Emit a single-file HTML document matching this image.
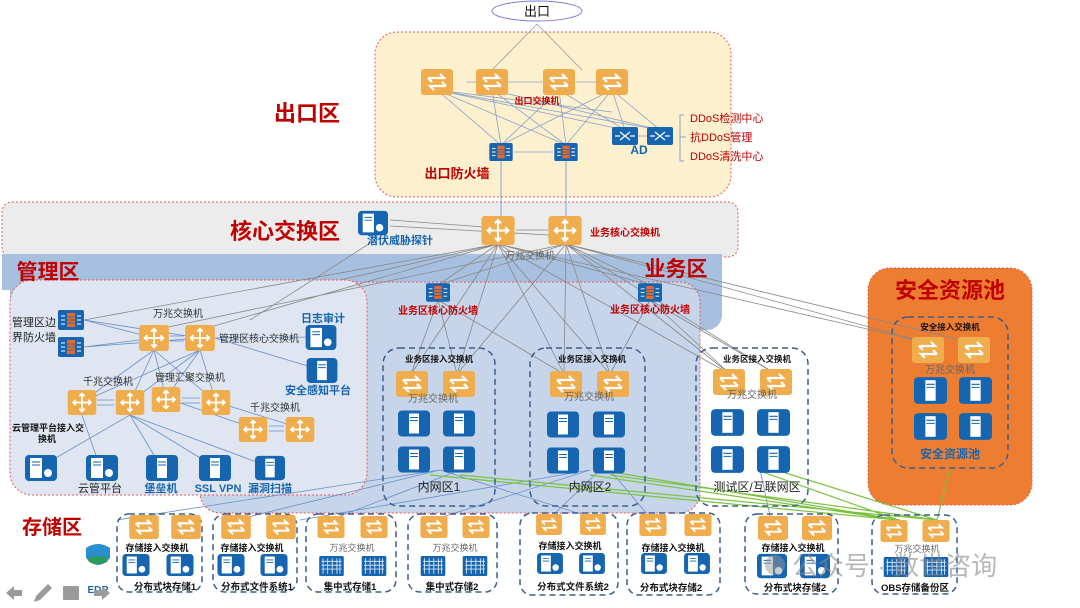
<!DOCTYPE html>
<html><head><meta charset="utf-8"><style>
html,body{margin:0;padding:0;background:#fff;}
svg{display:block;font-family:"Liberation Sans","Noto Sans CJK SC",sans-serif;}
.r{fill:#c00000;font-weight:bold;}
.b{fill:#1565b0;font-weight:bold;}
.k{fill:#111;font-weight:bold;}
.g{fill:#666;}
</style></head><body>
<svg width="1080" height="608" viewBox="0 0 1080 608" xmlns="http://www.w3.org/2000/svg">
<defs>
<symbol id="sw" viewBox="0 0 32 26"><rect width="32" height="26" rx="3" fill="#f0ad4e"/><path d="M7 9h16l-4-4M25 17H9l4 4M7 9l4 4M25 17l-4-4" stroke="#fff" stroke-width="2.2" fill="none"/></symbol>
<symbol id="cs" viewBox="0 0 32 28"><rect width="32" height="28" rx="3" fill="#f0ad4e"/><path d="M16 4v20M6 14h20M13 7l3-3 3 3M13 21l3 3 3-3M9 11l-3 3 3 3M23 11l3 3-3 3" stroke="#fff" stroke-width="2" fill="none"/></symbol>
<symbol id="fw" viewBox="0 0 26 20"><rect width="26" height="20" rx="2" fill="#1565b0"/><rect x="9" y="3" width="8" height="14" fill="#e8692b"/><path d="M9 7h8M9 10h8M9 13h8" stroke="#1565b0" stroke-width="0.8"/><path d="M3 6h4M3 10h4M3 14h4M19 6h4M19 10h4M19 14h4" stroke="#fff" stroke-width="1"/></symbol>
<symbol id="srv" viewBox="0 0 32 26"><rect width="32" height="26" rx="4" fill="#1565b0"/><rect x="11" y="3" width="10" height="20" fill="#fff"/><path d="M12 7h8M12 10h8" stroke="#1565b0" stroke-width="1"/></symbol>
<symbol id="st" viewBox="0 0 32 26"><rect width="32" height="26" rx="4" fill="#1565b0"/><rect x="5" y="3" width="12" height="20" fill="#fff"/><circle cx="23" cy="18" r="4" fill="#fff"/><path d="M7 7h8M7 10h8" stroke="#1565b0"/></symbol>
<symbol id="cen" viewBox="0 0 32 26"><rect width="32" height="26" rx="2" fill="#1565b0"/><path d="M5 3v20M11 3v20M17 3v20M23 3v20M27 3v20M3 7h26M3 12h26M3 17h26" stroke="#cfe0f5" stroke-width="1.2"/></symbol>
<symbol id="ad" viewBox="0 0 26 18"><rect width="26" height="18" rx="2" fill="#1565b0"/><path d="M8 5l10 8M18 5l-10 8M3 9h5M18 9h5" stroke="#fff" stroke-width="1.3"/></symbol>
</defs>

<!-- exit zone -->
<rect x="375" y="32" width="356" height="165" rx="22" fill="#fdf0cf" stroke="#e8585a" stroke-dasharray="2,2"/>
<path d="M537 24L492 70M537 24L582 70" stroke="#999" stroke-width="0.8"/>
<ellipse cx="537" cy="11" rx="45" ry="10" fill="#fff" stroke="#7a7ae0"/>
<text x="537" y="16" font-size="13" text-anchor="middle" fill="#111">出口</text>

<!-- core band -->
<rect x="2" y="202" width="736" height="55" rx="10" fill="#ececec" stroke="#e8585a" stroke-dasharray="2,2"/>
<!-- blue band -->
<path d="M2 254H722V315a15 15 0 0 1-15 15H10V290H2Z" fill="#a8c0df"/>
<rect x="200" y="282" width="500" height="231" rx="20" fill="#c6d5ea" stroke="#e8585a" stroke-dasharray="2,2"/>
<rect x="10" y="280" width="357" height="215" rx="22" fill="#dfe6f1" stroke="#e8585a" stroke-dasharray="2,2"/>

<!-- security pool -->
<rect x="868" y="268" width="164" height="237" rx="22" fill="#ed7d31" stroke="#e8585a" stroke-dasharray="2,2"/>

<!-- lines gray -->
<g stroke="#888" stroke-width="0.8" fill="none">
<path d="M437 90L501 145M437 90L566 145M437 90L625 130M437 90L660 130M492 90L501 145M492 90L566 145M492 90L660 130M559 90L501 145M559 90L566 145M559 90L625 130M612 90L501 145M612 90L566 145M612 90L625 130M612 90L660 130M437 90L612 112" stroke="#8aa3c8"/>
<path d="M466 82H476M508 82H543M576 82H596M514 152H553M638 136H647" stroke="#8aa3c8"/>
<path d="M501 160V222M566 160V222" stroke="#6a8fc8"/>
<path d="M390 220L498 228M390 226L566 236M516 230H548"/>
<path d="M498 244L84 320M498 244L200 330M498 244L438 285M498 244L411 374M498 244L457 374M498 244L564 374M498 244L610 374M498 244L730 374M498 244L650 285M566 244L438 285M566 244L457 374M566 244L564 374M566 244L610 374M566 244L776 374M566 244L928 343M566 244L973 343M566 244L650 285M566 244L730 374M498 244L928 343M566 244L154 330M375 240L250 320M498 244L340 280"/>
<path d="M438 300L411 374M438 300L457 374M650 300L730 374M650 300L776 374M650 300L610 374M438 300L564 374"/>
</g>
<!-- mgmt lines -->
<g stroke="#6a8fc8" stroke-width="0.8" fill="none">
<path d="M84 320L154 338M84 320L200 338M84 347L154 338M84 347L200 338M170 336H184M170 341H184M215 338L320 337M215 338L321 370M154 350L82 402M154 350L130 402M154 350L166 398M154 350L216 402M200 350L130 402M200 350L166 398M200 350L216 402M200 350L82 402M97 400H114M97 405H114M182 398H200M182 403H200M166 398L253 428M216 402L300 428M269 426H284M269 431H284M82 415L100 467M130 415L40 467M130 415L161 467M130 415L215 467M130 415L270 467"/>
<path d="M440 470L117 520M440 470L236 520M460 470L330 520M590 470L433 520M600 470L548 520M610 470L652 520M760 470L771 520M440 470L600 520M590 470L300 520"/>
</g>
<g stroke="#7cc242" stroke-width="1.2" fill="none">
<path d="M430 475L898 520M460 475L937 520M590 475L898 520M610 475L937 520M757 470L898 520M776 470L937 520M950 468L937 520M600 470L900 520"/>
</g>

<!-- exit devices -->
<use href="#sw" x="421" y="69" width="32" height="26"/><use href="#sw" x="476" y="69" width="32" height="26"/>
<use href="#sw" x="543" y="69" width="32" height="26"/><use href="#sw" x="596" y="69" width="32" height="26"/>
<text x="537" y="104" font-size="9" class="r" text-anchor="middle">出口交换机</text>
<use href="#ad" x="612" y="127" width="26" height="18"/><use href="#ad" x="647" y="127" width="26" height="18"/>
<text x="639" y="154" font-size="12" class="b" text-anchor="middle">AD</text>
<path d="M684 115h-4v46h4M680 137h6" stroke="#8aa3c8" fill="none"/>
<text x="690" y="122" font-size="11" fill="#c00000">DDoS检测中心</text>
<text x="690" y="141" font-size="11" fill="#c00000">抗DDoS管理</text>
<text x="690" y="160" font-size="11" fill="#c00000">DDoS清洗中心</text>
<use href="#fw" x="489" y="143" width="24" height="18"/><use href="#fw" x="554" y="143" width="24" height="18"/>
<text x="457" y="178" font-size="13" class="r" text-anchor="middle">出口防火墙</text>
<text x="307" y="121" font-size="22" class="r" text-anchor="middle">出口区</text>

<!-- core -->
<text x="285" y="239" font-size="22" class="r" text-anchor="middle">核心交换区</text>
<use href="#st" x="358" y="210" width="30" height="26"/>
<text x="400" y="244" font-size="11" class="b" text-anchor="middle">潜伏威胁探针</text>
<use href="#cs" x="481" y="216" width="34" height="29"/><use href="#cs" x="548" y="216" width="34" height="29"/>
<text x="590" y="236" font-size="10" class="r">业务核心交换机</text>
<text x="530" y="259" font-size="10" class="g" text-anchor="middle">万兆交换机</text>
<text x="48" y="279" font-size="21" class="r" text-anchor="middle">管理区</text>
<text x="676" y="276" font-size="21" class="r" text-anchor="middle">业务区</text>

<!-- mgmt -->
<use href="#fw" x="58" y="310" width="26" height="20"/><use href="#fw" x="58" y="337" width="26" height="20"/>
<text x="12" y="326" font-size="11" fill="#222">管理区边</text><text x="12" y="341" font-size="11" fill="#222">界防火墙</text>
<text x="178" y="317" font-size="10" fill="#333" text-anchor="middle">万兆交换机</text>
<use href="#cs" x="139" y="325" width="30" height="26"/><use href="#cs" x="185" y="325" width="30" height="26"/>
<text x="219" y="342" font-size="10" fill="#333">管理区核心交换机</text>
<text x="323" y="322" font-size="11" class="b" text-anchor="middle">日志审计</text>
<use href="#st" x="305" y="325" width="32" height="25"/>
<use href="#srv" x="306" y="358" width="32" height="25"/>
<text x="318" y="394" font-size="11" class="b" text-anchor="middle">安全感知平台</text>
<text x="108" y="385" font-size="10" fill="#333" text-anchor="middle">千兆交换机</text>
<text x="190" y="381" font-size="10" fill="#333" text-anchor="middle">管理汇聚交换机</text>
<text x="275" y="411" font-size="10" fill="#333" text-anchor="middle">千兆交换机</text>
<use href="#cs" x="67" y="390" width="30" height="25"/><use href="#cs" x="115" y="390" width="30" height="25"/>
<use href="#cs" x="151" y="387" width="30" height="25"/><use href="#cs" x="201" y="390" width="30" height="25"/>
<use href="#cs" x="238" y="417" width="30" height="25"/><use href="#cs" x="285" y="417" width="30" height="25"/>
<text x="12" y="431" font-size="9" class="k">云管理平台接入交</text><text x="38" y="442" font-size="9" class="k">换机</text>
<use href="#st" x="24" y="455" width="34" height="26"/><use href="#st" x="85" y="455" width="34" height="26"/>
<use href="#srv" x="146" y="455" width="32" height="26"/><use href="#srv" x="199" y="455" width="32" height="26"/><use href="#srv" x="255" y="455" width="30" height="26"/>
<text x="100" y="492" font-size="11" fill="#222" text-anchor="middle">云管平台</text>
<text x="161" y="492" font-size="11" class="b" text-anchor="middle">堡垒机</text>
<text x="218" y="492" font-size="11" class="b" text-anchor="middle">SSL VPN</text>
<text x="270" y="492" font-size="11" class="b" text-anchor="middle">漏洞扫描</text>

<!-- business -->
<use href="#fw" x="426" y="283" width="24" height="19"/><use href="#fw" x="638" y="283" width="24" height="19"/>
<text x="438" y="314" font-size="10" class="r" text-anchor="middle">业务区核心防火墙</text>
<text x="650" y="313" font-size="10" class="r" text-anchor="middle">业务区核心防火墙</text>
<g fill="none" stroke="#3c5e8e" stroke-width="1.5" stroke-dasharray="6,4">
<rect x="383" y="348" width="112" height="158" rx="16"/><rect x="530" y="348" width="115" height="158" rx="16"/><rect x="696" y="348" width="112" height="158" rx="16"/>
<rect x="892" y="317" width="116" height="151" rx="16"/>
</g>
<g font-size="8.5" class="k" text-anchor="middle"><text x="439" y="362">业务区接入交换机</text><text x="592" y="362">业务区接入交换机</text><text x="757" y="362">业务区接入交换机</text><text x="950" y="330">安全接入交换机</text></g>
<g>
<use href="#sw" x="396" y="371" width="32" height="26"/><use href="#sw" x="443" y="371" width="32" height="26"/>
<use href="#sw" x="550" y="371" width="32" height="26"/><use href="#sw" x="597" y="371" width="32" height="26"/>
<use href="#sw" x="713" y="369" width="32" height="26"/><use href="#sw" x="760" y="369" width="32" height="26"/>
<use href="#sw" x="912" y="337" width="32" height="26"/><use href="#sw" x="958" y="337" width="32" height="26"/>
</g>
<g font-size="10" class="g" text-anchor="middle"><text x="433" y="402">万兆交换机</text><text x="589" y="400">万兆交换机</text><text x="752" y="398">万兆交换机</text><text x="950" y="373">万兆交换机</text></g>
<g>
<use href="#srv" x="398" y="410" width="32" height="27"/><use href="#srv" x="443" y="410" width="32" height="27"/>
<use href="#srv" x="398" y="446" width="32" height="27"/><use href="#srv" x="443" y="446" width="32" height="27"/>
<use href="#srv" x="547" y="411" width="32" height="27"/><use href="#srv" x="593" y="411" width="32" height="27"/>
<use href="#srv" x="547" y="447" width="32" height="27"/><use href="#srv" x="593" y="447" width="32" height="27"/>
<use href="#srv" x="711" y="409" width="33" height="27"/><use href="#srv" x="757" y="409" width="33" height="27"/>
<use href="#srv" x="711" y="446" width="33" height="27"/><use href="#srv" x="757" y="446" width="33" height="27"/>
<use href="#srv" x="914" y="377" width="33" height="27"/><use href="#srv" x="959" y="377" width="33" height="27"/>
<use href="#srv" x="914" y="413" width="33" height="27"/><use href="#srv" x="959" y="413" width="33" height="27"/>
</g>
<g font-size="12" fill="#222" text-anchor="middle"><text x="439" y="491">内网区1</text><text x="590" y="491">内网区2</text><text x="757" y="491">测试区/互联网区</text></g>
<text x="950" y="458" font-size="12" class="b" text-anchor="middle">安全资源池</text>
<text x="950" y="298" font-size="22" class="r" text-anchor="middle">安全资源池</text>

<!-- storage -->
<text x="52" y="534" font-size="20" class="r" text-anchor="middle">存储区</text>
<path d="M86 548q12-8 24 0v10q-12 14-24 0z" fill="#2a8fd0"/><ellipse cx="98" cy="560" rx="10" ry="4" fill="#2e9b5a"/>
<text x="98" y="593" font-size="10" class="b" text-anchor="middle">EDR</text>
<g fill="#9a9a9a">
<path d="M6 593l8-7v4h8v6h-8v4z"/><path d="M34 602l2-6 12-12 4 4-12 12z"/><rect x="63" y="586" width="16" height="14" rx="1"/><path d="M110 593l-8-7v4h-8v6h8v4z"/>
</g>
<g fill="none" stroke="#3c5e8e" stroke-width="1.5" stroke-dasharray="6,4">
<rect x="117" y="514" width="85" height="78" rx="12"/><rect x="213" y="514" width="84" height="78" rx="12"/>
<rect x="306" y="514" width="90" height="78" rx="12"/><rect x="408" y="514" width="89" height="78" rx="12"/>
<rect x="520" y="513" width="98" height="82" rx="12"/><rect x="627" y="513" width="93" height="82" rx="12"/>
<rect x="745" y="514" width="93" height="80" rx="12"/><rect x="872" y="515" width="85" height="79" rx="12"/>
</g>
<g>
<use href="#sw" x="129" y="515" width="30" height="24"/><use href="#sw" x="171" y="515" width="30" height="24"/>
<use href="#sw" x="221" y="515" width="30" height="24"/><use href="#sw" x="266" y="515" width="30" height="24"/>
<use href="#sw" x="316" y="516" width="30" height="22"/><use href="#sw" x="359" y="516" width="30" height="22"/>
<use href="#sw" x="419" y="516" width="30" height="22"/><use href="#sw" x="461" y="516" width="30" height="22"/>
<use href="#sw" x="536" y="514" width="26" height="21"/><use href="#sw" x="580" y="514" width="26" height="21"/>
<use href="#sw" x="639" y="514" width="28" height="22"/><use href="#sw" x="684" y="514" width="28" height="22"/>
<use href="#sw" x="758" y="515" width="30" height="26"/><use href="#sw" x="802" y="515" width="30" height="26"/>
<use href="#sw" x="880" y="520" width="28" height="22"/><use href="#sw" x="922" y="520" width="28" height="22"/>
</g>
<g font-size="9" class="k" text-anchor="middle">
<text x="157" y="551">存储接入交换机</text><text x="252" y="551">存储接入交换机</text>
<text x="570" y="549">存储接入交换机</text><text x="673" y="551">存储接入交换机</text><text x="793" y="551">存储接入交换机</text>
</g>
<g font-size="9" class="g" text-anchor="middle"><text x="352" y="551">万兆交换机</text><text x="455" y="551">万兆交换机</text><text x="917" y="552">万兆交换机</text></g>
<g>
<use href="#st" x="122" y="554" width="28" height="22"/><use href="#st" x="166" y="554" width="28" height="22"/>
<use href="#st" x="217" y="554" width="28" height="22"/><use href="#st" x="260" y="554" width="28" height="22"/>
<use href="#cen" x="318" y="556" width="27" height="20"/><use href="#cen" x="361" y="556" width="26" height="20"/>
<use href="#cen" x="420" y="556" width="26" height="20"/><use href="#cen" x="462" y="556" width="26" height="20"/>
<use href="#st" x="537" y="553" width="26" height="21"/><use href="#st" x="579" y="553" width="26" height="21"/>
<use href="#st" x="641" y="553" width="26" height="21"/><use href="#st" x="684" y="553" width="26" height="21"/>
<use href="#st" x="757" y="553" width="30" height="26"/><use href="#st" x="800" y="553" width="30" height="26"/>
<use href="#cen" x="883" y="557" width="26" height="20"/><use href="#cen" x="923" y="557" width="26" height="20"/>
</g>
<g font-size="9.5" class="k" text-anchor="middle">
<text x="165" y="590">分布式块存储1</text><text x="257" y="590">分布式文件系统1</text><text x="350" y="590">集中式存储1</text><text x="452" y="590">集中式存储2</text>
<text x="573" y="590">分布式文件系统2</text><text x="671" y="591">分布式块存储2</text><text x="795" y="591">分布式块存储2</text><text x="915" y="591">OBS存储备份区</text>
</g>
<!-- watermark -->
<circle cx="775" cy="565" r="10" fill="#999" opacity="0.5"/>
<text x="792" y="575" font-size="26" fill="#888" opacity="0.6">公众号 · 数世咨询</text>
</svg>
</body></html>
